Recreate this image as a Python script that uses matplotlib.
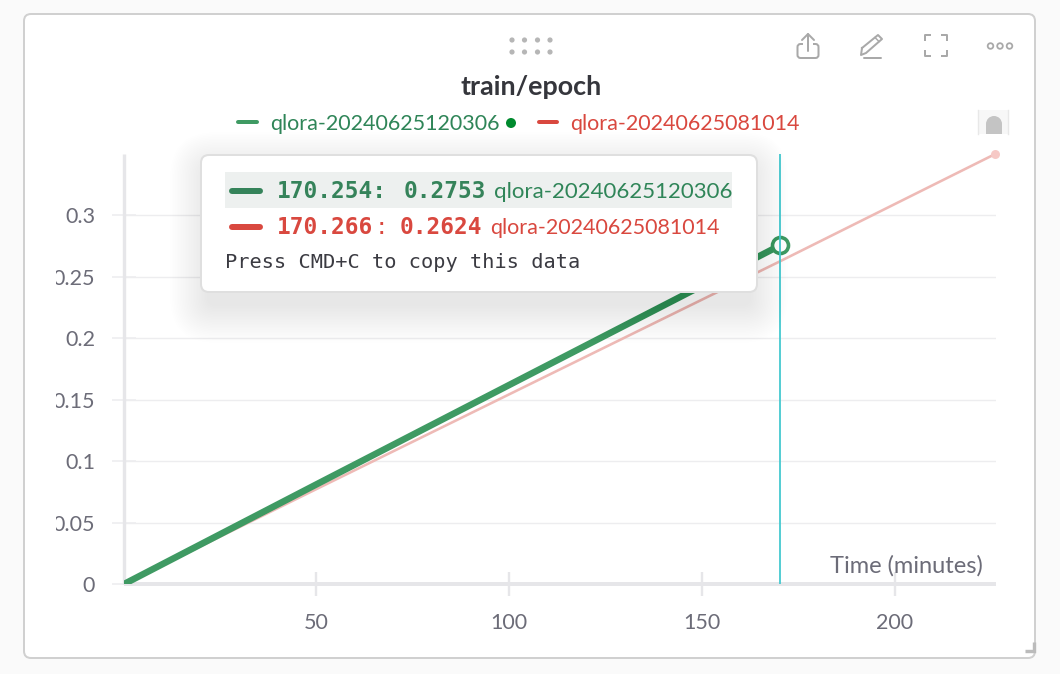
import matplotlib
matplotlib.use("Agg")
import matplotlib.pyplot as plt
from matplotlib.patches import FancyBboxPatch, Rectangle, Circle
from matplotlib.transforms import Bbox

SANS = "Lato"
MONO = "DejaVu Sans Mono"

# ---- data ----
title = "train/epoch"
run_green = "qlora-20240625120306"
run_red = "qlora-20240625081014"
time_green = [0.3, 50, 100, 150, 170.254]
epoch_green = [0.0, 0.0808, 0.1617, 0.2425, 0.2753]
time_red = [0.3, 50, 100, 170.266, 226.0]
epoch_red = [0.0, 0.0770, 0.1541, 0.2624, 0.3496]
x_ticks = [50, 100, 150, 200]
x_tick_labels = ["50", "100", "150", "200"]
y_ticks = [0, 0.05, 0.1, 0.15, 0.2, 0.25, 0.3]
y_tick_labels = ["0", "0.05", "0.1", "0.15", "0.2", "0.25", "0.3"]
cursor_x = 170.254
cursor_y = 0.2753
x_axis_label = "Time (minutes)"

GREEN = "#3f9a63"
GREEN_TXT = "#2f8558"
GREEN_DK = "#35835a"
RED = "#d9483f"
PALE = "#eebab6"
AXIS = "#e6e6e9"
GRID = "#ededef"
TICKTXT = "#6c6c78"
ICON = "#a9a9a9"

W, H = 1060, 674
fig = plt.figure(figsize=(W / 100, H / 100), dpi=100, facecolor="#fafafa")
px = 0.72  # points per pixel
FS = 15.5

# card background
bg = fig.add_axes([0, 0, 1, 1], zorder=0)
bg.set_xlim(0, W); bg.set_ylim(H, 0); bg.axis("off")
bg.add_patch(FancyBboxPatch((24, 14), 1011, 644, boxstyle="round,pad=0,rounding_size=7",
                            fc="white", ec="#d0d0d0", lw=2 * px))

# main plot
L, R, T, B = 124, 996, 154, 584
ax = fig.add_axes([L / W, 1 - B / H, (R - L) / W, (B - T) / H], zorder=1)
ax.patch.set_alpha(0)
ax.set_xlim(0.26, 226.2)
ax.set_ylim(0, 0.3496)
for s in ("top", "right"):
    ax.spines[s].set_visible(False)
ax.spines["left"].set_color(AXIS); ax.spines["left"].set_linewidth(3.4 * px)
ax.spines["bottom"].set_color(AXIS); ax.spines["bottom"].set_linewidth(4 * px)
ax.spines["left"].set_capstyle("butt"); ax.spines["bottom"].set_capstyle("butt")
ax.set_xticks(x_ticks, x_tick_labels)
ax.set_yticks(y_ticks, y_tick_labels)
ax.tick_params(axis="x", direction="inout", length=24 * px, width=2.4 * px, color=AXIS,
               pad=17 * px, labelsize=FS, labelcolor=TICKTXT)
ax.tick_params(axis="y", direction="inout", length=24 * px, width=1.6 * px, color=GRID,
               pad=17 * px, labelsize=FS, labelcolor=TICKTXT)
for lab in ax.get_xticklabels() + ax.get_yticklabels():
    lab.set_fontfamily(SANS)
ax.yaxis.grid(True, color=GRID, lw=1.4 * px)
ax.set_axisbelow(True)
clip = Bbox([[56, 0], [W, H]])
for lab in ax.get_yticklabels():
    lab.set_clip_on(True)
    lab.set_clip_box(clip)

ax.plot(time_red, epoch_red, color=PALE, lw=2.6 * px, zorder=3, solid_capstyle="round")
ax.plot(time_red[-1:], epoch_red[-1:], "o", ms=9 * px, color="#f6c9c6", mec="none", zorder=3, clip_on=False)
ax.plot(time_green, epoch_green, color=GREEN, lw=6.6 * px, zorder=4, solid_capstyle="round")
ax.plot([cursor_x], [cursor_y], "o", ms=16 * px, mfc="white", mec=GREEN, mew=3.6 * px, zorder=4.5, clip_on=False)
ax.axvline(cursor_x, color="#45c9d0", lw=1.8 * px, zorder=5)

# overlay in pixel coordinates
ov = fig.add_axes([0, 0, 1, 1], zorder=2)
ov.set_xlim(0, W); ov.set_ylim(H, 0); ov.axis("off"); ov.patch.set_alpha(0)

ov.text(983, 566, x_axis_label, ha="right", va="center", family=SANS, fontsize=17, color=TICKTXT)

# title, legend
ov.text(531.5, 87, title, ha="center", va="center", family=SANS, fontsize=19.4, weight="bold", color="#35363c")
ov.plot([238, 257], [122, 122], color=GREEN, lw=4 * px, solid_capstyle="round")
ov.text(270, 124, run_green, ha="left", va="center", family=SANS, fontsize=FS, color=GREEN_TXT)
ov.add_patch(Circle((511, 123), 5, fc="#008a2e", ec="none"))
ov.plot([539, 557], [122, 122], color=RED, lw=4 * px, solid_capstyle="round")
ov.text(570, 124, run_red, ha="left", va="center", family=SANS, fontsize=FS, color=RED)

# grip dots
for yy in (40, 52):
    for xx in (512, 524.5, 537.5, 550):
        ov.add_patch(Circle((xx, yy), 2.6, fc="#b6b6b6", ec="none"))

# share icon
ov.add_patch(FancyBboxPatch((797.5, 44), 21, 14, boxstyle="round,pad=0,rounding_size=3", fc="none", ec=ICON, lw=2 * px))
ov.add_patch(Rectangle((803, 42), 10, 4, fc="white", ec="none"))
ov.plot([808, 808], [34, 51], color=ICON, lw=2 * px, solid_capstyle="round")
ov.plot([802, 808, 814], [40, 34, 40], color=ICON, lw=2 * px, solid_capstyle="round")
# pencil icon
ov.plot([862, 878, 882, 866, 861, 862], [48, 35, 39, 53, 55, 48], color=ICON, lw=2 * px, solid_joinstyle="round")
ov.plot([875, 879], [37.5, 41.5], color=ICON, lw=1.5 * px)
ov.plot([864, 881], [58, 58], color=ICON, lw=2 * px, solid_capstyle="round")
# full screen icon
for (x0, y0, dx, dy) in ((925, 40, 1, -1), (947, 40, -1, -1), (925, 51, 1, 1), (947, 51, -1, 1)):
    ov.plot([x0, x0, x0 + 5 * dx], [y0, y0 + 5 * dy, y0 + 5 * dy], color=ICON, lw=2 * px, solid_joinstyle="round")
# dots icon
for xx in (990.5, 1000, 1009.5):
    ov.add_patch(Circle((xx, 46), 2.8, fc="none", ec=ICON, lw=1.8 * px))
# bookmark shape
ov.add_patch(Rectangle((978, 110), 30, 24, fc="#f7f7f7", ec="none"))
ov.plot([978, 978], [110, 134], color="#e8e8e8", lw=1.4 * px)
ov.plot([1008, 1008], [110, 134], color="#e8e8e8", lw=1.4 * px)
ov.add_patch(Rectangle((986, 124), 16, 10, fc="#c4c4c4", ec="none"))
ov.add_patch(Circle((994, 124), 8, fc="#c4c4c4", ec="none"))
# resize corner
ov.plot([1025, 1034, 1034], [651, 651, 642], color="#bbbbbb", lw=3.4 * px, solid_joinstyle="miter", solid_capstyle="butt")

# tooltip shadow
bx, by, bw, bh = 201, 155, 556, 137
for i in range(24):
    g = 1.6 * i
    ov.add_patch(FancyBboxPatch((bx - g + 6, by + 14 - g), bw - 12 + 2 * g, bh + 2 * g,
                                boxstyle=f"round,pad=0,rounding_size={8 + g}",
                                fc="black", ec="none", alpha=0.0045, zorder=5))
ov.add_patch(FancyBboxPatch((bx, by), bw, bh, boxstyle="round,pad=0,rounding_size=8",
                            fc="white", ec="#dfdfdf", lw=2 * px, zorder=6))
ov.add_patch(Rectangle((225, 172), 507, 36, fc="#edf0ef", ec="none", zorder=7))

kw = dict(va="center", ha="left", zorder=8)
MS = 16.4
ov.plot([232, 260], [190.5, 190.5], color=GREEN_DK, lw=6 * px, solid_capstyle="round", zorder=8)
ov.text(277, 191, f"{time_green[-1]}:", family=MONO, weight="bold", fontsize=MS, color=GREEN_DK, **kw)
ov.text(404, 191, f"{epoch_green[-1]:.4f}", family=MONO, weight="bold", fontsize=MS, color=GREEN_DK, **kw)
ov.text(494, 192, run_green, family=SANS, fontsize=16, color=GREEN_TXT, **kw)
ov.plot([232, 260], [226.5, 226.5], color=RED, lw=6 * px, solid_capstyle="round", zorder=8)
ov.text(277, 227, f"{time_red[-2]}", family=MONO, weight="bold", fontsize=MS, color=RED, **kw)
ov.text(375, 227, ":", family=MONO, fontsize=MS, color=RED, **kw)
ov.text(400, 227, f"{epoch_red[-2]:.4f}", family=MONO, weight="bold", fontsize=MS, color=RED, **kw)
ov.text(490, 228, run_red, family=SANS, fontsize=FS, color=RED, **kw)
ov.text(225, 262, "Press CMD+C to copy this data", family=MONO, fontsize=14.6, color="#3b3b42", **kw)

fig.savefig("out.png", dpi=100, facecolor=fig.get_facecolor())
